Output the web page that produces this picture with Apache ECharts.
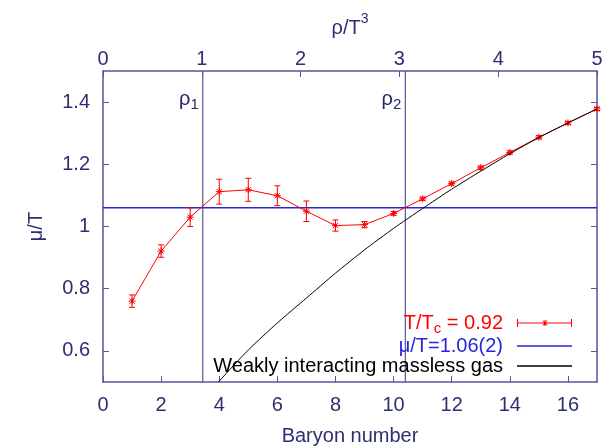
<!DOCTYPE html>
<html><head><meta charset="utf-8">
<script src="https://cdn.jsdelivr.net/npm/echarts@6/dist/echarts.min.js"></script>
<style>html,body{margin:0;padding:0;background:#fff}#c{width:608px;height:446px}</style>
</head><body><div id="c"></div>
<script>
const baryonNumbers = [1, 2, 3, 4, 5, 6, 7, 8, 9, 10, 11, 12, 13, 14, 15, 16, 17];
const muOverT = [0.760, 0.921, 1.030, 1.112, 1.118, 1.099, 1.049, 1.003, 1.006, 1.042, 1.089, 1.138, 1.189, 1.238, 1.287, 1.333, 1.378];
const muErrors = [0.020, 0.020, 0.030, 0.040, 0.037, 0.032, 0.033, 0.018, 0.010, 0.006, 0.005, 0.005, 0.005, 0.005, 0.005, 0.005, 0.005];
const gasN = [3.97, 5, 6, 7, 8, 9, 10, 11, 12, 13, 14, 15, 16, 17];
const gasMu = [0.500, 0.603, 0.690, 0.770, 0.850, 0.925, 0.994, 1.058, 1.120, 1.178, 1.234, 1.286, 1.333, 1.378];
const plateauMu = 1.06;
const rhoMarks = [1.01, 3.06];
const rhoNames = ['1', '2'];
const yTickValues = [0.6, 0.8, 1.0, 1.2, 1.4];
const legendNames = ['T/T_c = 0.92', 'μ/T=1.06(2)', 'Weakly interacting massless gas'];

const FONT = 'Liberation Sans, Arial, Helvetica, sans-serif';
const NAVY_TXT = '#2e2e72';
const NAVY_LINE = '#55559a';
const RED = '#ff0000';
const BLUE = '#2626dc';

const chart = echarts.init(document.getElementById('c'), null, {renderer: 'canvas'});

function renderErr(params, api) {
  const x = api.value(0), y = api.value(1), e = api.value(2);
  const c = api.coord([x, y]), t = api.coord([x, y + e]), b = api.coord([x, y - e]);
  const w = 3, s = 3.5, d = 2.6;
  const st = {stroke: RED, lineWidth: 1};
  const L = (x1, y1, x2, y2) => ({type: 'line', shape: {x1, y1, x2, y2}, style: st});
  return {type: 'group', children: [
    L(t[0], t[1], b[0], b[1]),
    L(t[0] - w, t[1], t[0] + w, t[1]),
    L(b[0] - w, b[1], b[0] + w, b[1]),
    L(c[0] - s, c[1], c[0] + s, c[1]),
    L(c[0], c[1] - s, c[0], c[1] + s),
    L(c[0] - d, c[1] - d, c[0] + d, c[1] + d),
    L(c[0] - d, c[1] + d, c[0] + d, c[1] - d)
  ]};
}

const errIcon = 'path://M0,0 L1,0 L1,8 L0,8 Z M54,0 L55,0 L55,8 L54,8 Z M0,3.4 L55,3.4 L55,4.6 L0,4.6 Z ' +
  'M27.5,1 L28.5,1 L28.5,7 L27.5,7 Z M25.3,1.6 L26.3,1.6 L30.7,6.4 L29.7,6.4 Z M29.7,1.6 L30.7,1.6 L26.3,6.4 L25.3,6.4 Z';
const lineIcon = 'path://M0,0 M0,8 M0,3.25 L55,3.25 L55,4.75 L0,4.75 Z';

const legendRich = {
  a: {fontSize: 20, lineHeight: 20, fontFamily: FONT, verticalAlign: 'middle'},
  b: {fontSize: 15, lineHeight: 26, fontFamily: FONT, verticalAlign: 'bottom'}
};
const rhoRich = {
  a: {fontSize: 20, lineHeight: 20, fontFamily: FONT, color: '#25256a', verticalAlign: 'middle'},
  b: {fontSize: 15, lineHeight: 26, fontFamily: FONT, color: '#25256a', verticalAlign: 'bottom'}
};
const titleRich = {
  a: {fontSize: 20, lineHeight: 26, fontFamily: FONT, color: NAVY_TXT, verticalAlign: 'bottom'},
  p: {fontSize: 14, lineHeight: 14, fontFamily: FONT, color: NAVY_TXT, verticalAlign: 'top'}
};

const axisCommon = (extra) => Object.assign({
  type: 'value',
  nameMoveOverlap: false,
  axisLine: {show: true, onZero: false, lineStyle: {color: NAVY_LINE, width: 1.5}},
  axisTick: {inside: true, length: 6, lineStyle: {color: NAVY_LINE}},
  splitLine: {show: false}
}, extra);

const option = {
  animation: false,
  backgroundColor: '#fff',
  grid: {left: 103, right: 11, top: 71, bottom: 64, containLabel: false, outerBoundsMode: 'none'},
  xAxis: [axisCommon({
    position: 'bottom', min: 0, max: 17, interval: 2,
    axisLabel: {fontSize: 20, fontFamily: FONT, color: NAVY_TXT, margin: 13, showMaxLabel: false},
    name: 'Baryon number', nameLocation: 'middle', nameGap: 44,
    nameTextStyle: {fontSize: 20, fontFamily: FONT, color: NAVY_TXT}
  }), axisCommon({
    position: 'top', min: 0, max: 5, interval: 1,
    axisLabel: {fontSize: 20, fontFamily: FONT, color: NAVY_TXT, margin: 2},
    name: '{a|ρ/T}{p|3}', nameLocation: 'middle', nameGap: 33,
    nameTextStyle: {fontSize: 20, fontFamily: FONT, color: NAVY_TXT, rich: titleRich}
  })],
  yAxis: [axisCommon({
    position: 'left', min: 0.5, max: 1.5,
    axisTick: {inside: true, length: 6, customValues: yTickValues, lineStyle: {color: NAVY_LINE}},
    axisLabel: {fontSize: 20, fontFamily: FONT, color: NAVY_TXT, margin: 13, customValues: yTickValues},
    name: 'μ/T', nameLocation: 'middle', nameGap: 57, nameRotate: 90,
    nameTextStyle: {fontSize: 20, fontFamily: FONT, color: NAVY_TXT}
  }), axisCommon({
    position: 'right', min: 0.5, max: 1.5,
    axisTick: {inside: true, length: 6, customValues: yTickValues, lineStyle: {color: NAVY_LINE}},
    axisLabel: {show: false}
  })],
  legend: {
    orient: 'vertical', align: 'right', right: 36, top: 310, padding: 0,
    itemWidth: 55, itemHeight: 8, itemGap: 0, selectedMode: false,
    itemStyle: {borderWidth: 0},
    textStyle: {fontSize: 20, fontFamily: FONT, lineHeight: 20, padding: [0, 9, 0, 0], rich: legendRich},
    formatter: function (name) {
      if (name === legendNames[0]) return '{a|T/T}{b|c}{a| = 0.92}';
      return name;
    },
    data: [
      {name: legendNames[0], icon: errIcon, textStyle: {color: RED}, itemStyle: {color: RED}},
      {name: legendNames[1], icon: lineIcon, textStyle: {color: BLUE}, itemStyle: {color: BLUE}},
      {name: legendNames[2], icon: lineIcon, textStyle: {color: '#000'}, itemStyle: {color: '#000'}}
    ]
  },
  series: [
    {
      type: 'line', name: legendNames[1], xAxisIndex: 0, yAxisIndex: 0,
      data: [[0, plateauMu], [17, plateauMu]],
      showSymbol: false, symbol: 'none', lineStyle: {color: BLUE, width: 1.5}, itemStyle: {color: BLUE}, z: 2
    },
    {
      type: 'line', name: 'rho1', xAxisIndex: 1, yAxisIndex: 0,
      data: [[rhoMarks[0], 0.5], [rhoMarks[0], 1.5]],
      showSymbol: false, symbol: 'none', lineStyle: {color: NAVY_LINE, width: 1.2}, z: 2
    },
    {
      type: 'line', name: 'rho2', xAxisIndex: 1, yAxisIndex: 0,
      data: [[rhoMarks[1], 0.5], [rhoMarks[1], 1.5]],
      showSymbol: false, symbol: 'none', lineStyle: {color: NAVY_LINE, width: 1.2}, z: 2
    },
    {
      type: 'scatter', name: 'rhoLabels', xAxisIndex: 1, yAxisIndex: 0,
      data: rhoMarks.map((r, i) => ({value: [r, 1.41], label: {formatter: '{a|ρ}{b|' + rhoNames[i] + '}'}})),
      symbol: 'circle', symbolSize: 0, itemStyle: {color: NAVY_TXT, opacity: 1}, silent: true,
      label: {show: true, position: 'left', distance: 4, color: '#25256a', fontFamily: FONT, fontSize: 20, rich: rhoRich},
      z: 5
    },
    {
      type: 'line', name: legendNames[0], xAxisIndex: 0, yAxisIndex: 0,
      data: baryonNumbers.map((n, i) => [n, muOverT[i]]),
      showSymbol: false, symbol: 'none', lineStyle: {color: RED, width: 1}, itemStyle: {color: RED}, z: 3
    },
    {
      type: 'custom', name: legendNames[0], xAxisIndex: 0, yAxisIndex: 0,
      data: baryonNumbers.map((n, i) => [n, muOverT[i], muErrors[i]]),
      encode: {x: 0, y: 1}, renderItem: renderErr, itemStyle: {color: RED}, z: 4
    },
    {
      type: 'line', name: legendNames[2], xAxisIndex: 0, yAxisIndex: 0,
      data: gasN.map((n, i) => [n, gasMu[i]]),
      smooth: 0.2, showSymbol: false, symbol: 'none', lineStyle: {color: '#000', width: 1}, itemStyle: {color: '#000'}, z: 5
    }
  ]
};
chart.setOption(option);
</script>
</body></html>
